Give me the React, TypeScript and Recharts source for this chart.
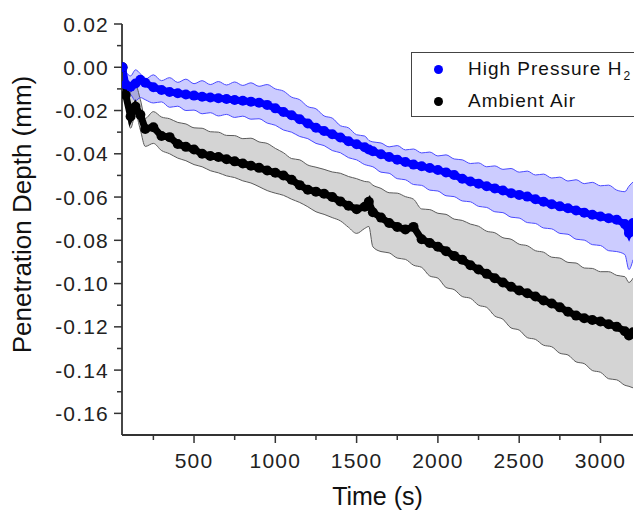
import React from 'react';
import { ComposedChart, Area, Line, XAxis, YAxis, Legend, Label } from 'recharts';

// Time (s)
const time = [
  60, 80, 110, 140, 170,
  200, 250, 300, 350, 400, 450, 500, 550, 600, 650,
  700, 750, 800, 850, 900, 950, 1000, 1050, 1100, 1150,
  1200, 1250, 1300, 1350, 1400, 1450, 1500, 1550,
  1575,
  1600, 1650, 1700, 1750, 1800, 1850, 1900, 1950, 2000, 2050,
  2100, 2150, 2200, 2250, 2300, 2350, 2400, 2450, 2500, 2550,
  2600, 2650, 2700, 2750, 2800, 2850, 2900, 2950, 3000, 3050,
  3100, 3150,
  3175,
  3200,
];

// High Pressure H2: mean penetration depth (mm) and band edges
const h2Mean = [
  0.0, -0.008, -0.009, -0.0075, -0.0058,
  -0.0072, -0.0092, -0.0105, -0.0114, -0.012, -0.0126, -0.0131, -0.0136, -0.014, -0.0143,
  -0.0147, -0.0151, -0.0155, -0.0159, -0.0164, -0.0174, -0.019, -0.0207, -0.0222, -0.024,
  -0.026, -0.028, -0.0295, -0.031, -0.0325, -0.0342, -0.0356, -0.037,
  -0.038,
  -0.0388, -0.0402, -0.0415, -0.0427, -0.0438, -0.045, -0.0458, -0.0466, -0.0475, -0.0486,
  -0.0498, -0.0515, -0.0528, -0.0538, -0.055, -0.056, -0.057, -0.0582, -0.059, -0.0598,
  -0.061, -0.0622, -0.0633, -0.0643, -0.0652, -0.0662, -0.0672, -0.0682, -0.069, -0.0698,
  -0.0705, -0.0725,
  -0.0766,
  -0.072,
];
const h2Upper = [
  0.001, -0.002, -0.004, -0.0012, -0.003,
  -0.0055, -0.0035, -0.0062, -0.0048, -0.007, -0.0055, -0.0076, -0.0062, -0.008, -0.0066,
  -0.0082, -0.0068, -0.0084, -0.0072, -0.0088, -0.008, -0.01, -0.011, -0.0138, -0.015,
  -0.0182, -0.0192, -0.0225, -0.0235, -0.027, -0.028, -0.0312, -0.0318,
  -0.0338,
  -0.0345, -0.035, -0.0368, -0.0362, -0.0382, -0.0378, -0.0396, -0.0392, -0.041, -0.0405,
  -0.0424, -0.0428, -0.0445, -0.0442, -0.046, -0.0456, -0.0472, -0.0468, -0.0485, -0.048,
  -0.0498, -0.0494, -0.0512, -0.0508, -0.0526, -0.052, -0.0538, -0.0532, -0.0548, -0.0545,
  -0.0568, -0.0575,
  -0.055,
  -0.053,
];
const h2Lower = [
  -0.005, -0.011, -0.0125, -0.0155, -0.014,
  -0.015, -0.0165, -0.016, -0.0185, -0.018, -0.02, -0.0198, -0.0215, -0.021, -0.0225,
  -0.0218, -0.0232, -0.0226, -0.024, -0.0238, -0.0258, -0.0268, -0.029, -0.03, -0.032,
  -0.033, -0.0352, -0.0362, -0.0385, -0.0395, -0.0418, -0.0428, -0.045,
  -0.0455,
  -0.046, -0.0485, -0.049, -0.0515, -0.052, -0.0542, -0.0546, -0.0568, -0.0572, -0.0594,
  -0.0598, -0.0618, -0.0622, -0.0643, -0.0648, -0.0668, -0.0672, -0.0693, -0.0697, -0.0718,
  -0.0722, -0.0743, -0.0747, -0.0768, -0.0772, -0.0795, -0.0799, -0.082, -0.0824, -0.0848,
  -0.0852, -0.0866,
  -0.0935,
  -0.089,
];

// Ambient Air: mean penetration depth (mm) and band edges
const airMean = [
  0.0, -0.0128, -0.0228, -0.0182, -0.022,
  -0.0285, -0.0277, -0.0318, -0.0323, -0.0355, -0.0368, -0.038, -0.04, -0.041, -0.0415,
  -0.0425, -0.0435, -0.0445, -0.0455, -0.0465, -0.0477, -0.0488, -0.05, -0.052, -0.0545,
  -0.0566, -0.0575, -0.0585, -0.06, -0.062, -0.064, -0.0656, -0.0645,
  -0.0622,
  -0.067, -0.0695, -0.072, -0.0738, -0.075, -0.0738, -0.0795, -0.0812, -0.083, -0.085,
  -0.0872, -0.089, -0.0915, -0.0935, -0.0955, -0.0975, -0.0995, -0.1015, -0.1032, -0.1045,
  -0.106, -0.1078, -0.1092, -0.111, -0.113, -0.1148, -0.116, -0.1168, -0.1175, -0.1188,
  -0.12, -0.122,
  -0.124,
  -0.1225,
];
const airUpper = [
  -0.001, -0.006, -0.0115, -0.0082, -0.015,
  -0.0236, -0.0205, -0.023, -0.0238, -0.0255, -0.0262, -0.028, -0.0282, -0.0298, -0.03,
  -0.0315, -0.0316, -0.033, -0.0328, -0.0345, -0.0352, -0.0375, -0.0395, -0.0422, -0.0428,
  -0.0452, -0.0462, -0.0472, -0.0484, -0.049, -0.0505, -0.0515, -0.0528,
  -0.053,
  -0.0545, -0.056, -0.058, -0.0582, -0.0598, -0.061, -0.0655, -0.0658, -0.0675, -0.068,
  -0.0702, -0.0708, -0.0725, -0.0735, -0.0758, -0.0765, -0.0788, -0.0795, -0.0818, -0.0825,
  -0.0848, -0.0855, -0.0878, -0.0882, -0.0902, -0.0905, -0.0928, -0.093, -0.0945, -0.0945,
  -0.0962, -0.0968,
  -0.0995,
  -0.0975,
];
const airLower = [
  -0.003, -0.015, -0.0282, -0.0215, -0.029,
  -0.0366, -0.0352, -0.0385, -0.04, -0.042, -0.0432, -0.045, -0.046, -0.0478, -0.0488,
  -0.0502, -0.051, -0.0525, -0.0535, -0.0552, -0.057, -0.0582, -0.0592, -0.061, -0.0625,
  -0.0645, -0.0668, -0.068, -0.0695, -0.071, -0.074, -0.0768, -0.0745,
  -0.0736,
  -0.083, -0.0852, -0.0858, -0.0882, -0.0888, -0.0915, -0.0925, -0.0965, -0.0975, -0.1018,
  -0.1028, -0.106, -0.1068, -0.11, -0.111, -0.115, -0.1165, -0.1205, -0.1215, -0.125,
  -0.1258, -0.1285, -0.1292, -0.1322, -0.133, -0.1362, -0.137, -0.1402, -0.141, -0.144,
  -0.1445, -0.147,
  -0.1475,
  -0.1482,
];

const xMajorTicks = [500, 1000, 1500, 2000, 2500, 3000];
const xMinorTicks = [250, 750, 1250, 1750, 2250, 2750];
const yMajorTicks = [0.02, 0, -0.02, -0.04, -0.06, -0.08, -0.1, -0.12, -0.14, -0.16];
const yMinorTicks = [0.01, -0.01, -0.03, -0.05, -0.07, -0.09, -0.11, -0.13, -0.15];

const seriesNames = ['High Pressure H', 'Ambient Air'];

const data = time.map((t, i) => ({
  t,
  h2: h2Mean[i],
  h2Up: h2Upper[i],
  h2Lo: h2Lower[i],
  h2Band: [h2Lower[i], h2Upper[i]],
  air: airMean[i],
  airUp: airUpper[i],
  airLo: airLower[i],
  airBand: [airLower[i], airUpper[i]],
}));

const FONT = '"Liberation Sans", Arial, sans-serif';
const AXIS = '#333333';
const BLUE = '#0000ff';
const BLACK = '#000000';

const XTick = (props: any) => {
  const { x, y, payload } = props;
  const v = payload.value;
  const major = xMajorTicks.some((m) => Math.abs(m - v) < 1e-6);
  return (
    <g>
      <line x1={x} x2={x} y1={y} y2={y + (major ? 8 : 5)} stroke={AXIS} strokeWidth={1.5} />
      {major && (
        <text x={x} y={y + 33} textAnchor="middle" fontFamily={FONT} fontSize={21} letterSpacing={1.2} fill="#222">
          {String(v)}
        </text>
      )}
    </g>
  );
};

const YTick = (props: any) => {
  const { x, y, payload } = props;
  const v = payload.value;
  const major = yMajorTicks.some((m) => Math.abs(m - v) < 1e-9);
  return (
    <g>
      <line x1={x - (major ? 8 : 5)} x2={x} y1={y} y2={y} stroke={AXIS} strokeWidth={1.5} />
      {major && (
        <text x={x - 13} y={y + 7.5} textAnchor="end" fontFamily={FONT} fontSize={21} letterSpacing={1.2} fill="#222">
          {v.toFixed(2)}
        </text>
      )}
    </g>
  );
};

const XTitle = (props: any) => {
  const vb = props.viewBox;
  return (
    <text x={vb.x + vb.width / 2} y={vb.y + 70} textAnchor="middle" fontFamily={FONT} fontSize={25} fill="#111">
      Time (s)
    </text>
  );
};

const YTitle = (props: any) => {
  const vb = props.viewBox;
  const cx = vb.x + 31;
  const cy = vb.y + vb.height / 2 - 15;
  return (
    <text x={cx} y={cy} transform={`rotate(-90, ${cx}, ${cy})`} textAnchor="middle" fontFamily={FONT} fontSize={26} fill="#111">
      Penetration Depth (mm)
    </text>
  );
};

const renderLegend = () => {
  const rows = [
    { color: BLUE, top: 17, sub: true, name: seriesNames[0] },
    { color: BLACK, top: 49, sub: false, name: seriesNames[1] },
  ];
  return (
    <div
      style={{
        position: 'relative',
        boxSizing: 'border-box',
        width: 226,
        height: 65,
        border: '1px solid #444',
        background: '#fff',
        fontFamily: FONT,
        fontSize: 19,
        color: '#111',
      }}
    >
      {rows.map((r) => (
        <React.Fragment key={r.name}>
          <div
            style={{
              position: 'absolute',
              left: 26 - 4.5,
              top: r.top - 1 - 4.5,
              width: 9,
              height: 9,
              borderRadius: '50%',
              background: r.color,
            }}
          />
          <span
            style={{
              position: 'absolute',
              left: 56,
              top: r.top - 1 - 11,
              lineHeight: '22px',
              whiteSpace: 'nowrap',
              letterSpacing: 1,
            }}
          >
            {r.name}
            {r.sub && <span style={{ fontSize: 12, position: 'relative', top: 5, marginLeft: 1 }}>2</span>}
          </span>
        </React.Fragment>
      ))}
    </div>
  );
};

export default function App() {
  return (
    <div style={{ position: 'absolute', left: 0, top: 0, width: 634, height: 512, overflow: 'hidden', background: '#fff' }}>
      <ComposedChart width={634} height={512} data={data} margin={{ top: 24, right: 1, bottom: 0, left: 0 }}>
        <XAxis
          type="number"
          dataKey="t"
          domain={[57, 3200]}
          allowDataOverflow
          ticks={[...xMajorTicks, ...xMinorTicks]}
          interval={0}
          height={77}
          tickSize={0}
          tickMargin={0}
          tickLine={false}
          axisLine={{ stroke: AXIS, strokeWidth: 1.8 }}
          tick={XTick}
        >
          <Label content={XTitle} />
        </XAxis>
        <YAxis
          type="number"
          domain={[-0.17, 0.02]}
          allowDataOverflow
          ticks={[...yMajorTicks, ...yMinorTicks]}
          interval={0}
          width={122}
          tickSize={0}
          tickMargin={0}
          tickLine={false}
          axisLine={{ stroke: AXIS, strokeWidth: 1.8 }}
          tick={YTick}
        >
          <Label content={YTitle} />
        </YAxis>
        <Legend
          layout="horizontal"
          verticalAlign="middle"
          align="center"
          content={renderLegend}
          wrapperStyle={{ left: 411, top: 52, width: 226, height: 65 }}
        />
        <Area
          dataKey="airBand"
          type="monotone"
          stroke="none"
          fill="#d4d4d4"
          fillOpacity={1}
          isAnimationActive={false}
          activeDot={false}
          legendType="none"
        />
        <Line dataKey="airUp" type="monotone" stroke="#5a5a5a" strokeWidth={1} dot={false} activeDot={false} isAnimationActive={false} legendType="none" />
        <Line dataKey="airLo" type="monotone" stroke="#5a5a5a" strokeWidth={1} dot={false} activeDot={false} isAnimationActive={false} legendType="none" />
        <Area
          dataKey="h2Band"
          type="monotone"
          stroke="none"
          fill={BLUE}
          fillOpacity={0.2}
          isAnimationActive={false}
          activeDot={false}
          legendType="none"
        />
        <Line dataKey="h2Up" type="monotone" stroke="#4a4aff" strokeWidth={1} dot={false} activeDot={false} isAnimationActive={false} legendType="none" />
        <Line dataKey="h2Lo" type="monotone" stroke="#4a4aff" strokeWidth={1} dot={false} activeDot={false} isAnimationActive={false} legendType="none" />
        <Line
          dataKey="air"
          name={seriesNames[1]}
          type="linear"
          stroke={BLACK}
          strokeWidth={7}
          dot={{ r: 5, fill: BLACK, stroke: 'none' }}
          activeDot={false}
          isAnimationActive={false}
        />
        <Line
          dataKey="h2"
          name={seriesNames[0]}
          type="linear"
          stroke={BLUE}
          strokeWidth={7}
          dot={{ r: 5, fill: BLUE, stroke: 'none' }}
          activeDot={false}
          isAnimationActive={false}
        />
      </ComposedChart>
    </div>
  );
}
